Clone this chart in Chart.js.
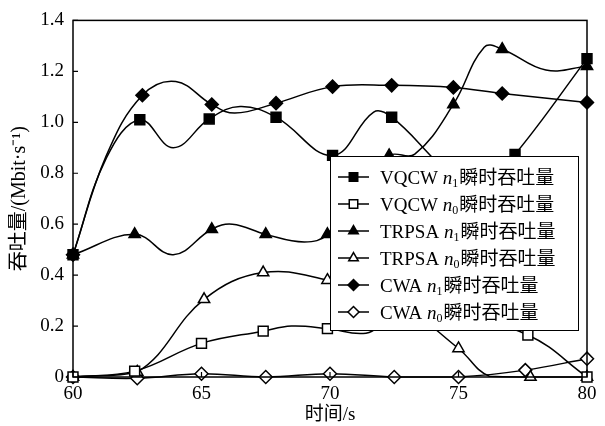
<!DOCTYPE html>
<html>
<head>
<meta charset="utf-8">
<script src="https://cdn.jsdelivr.net/npm/chart.js@4.4.1/dist/chart.umd.min.js"></script>
<style>
html, body { margin: 0; padding: 0; background: #fff; }
#wrap { width: 605px; height: 426px; }
</style>
</head>
<body>
<div id="wrap"><canvas id="chart" width="605" height="426"></canvas></div>
<script>
// axis ticks
var xTickLabels = ["60", "65", "70", "75", "80"];
var yTickLabels = ["0", "0.2", "0.4", "0.6", "0.8", "1.0", "1.2", "1.4"];

// legend text
var seriesNames = ["VQCW", "VQCW", "TRPSA", "TRPSA", "CWA", "CWA"];
var seriesSubs = ["1", "0", "1", "0", "1", "0"];
var seriesSuffix = "瞬时吞吐量";

// VQCW n1 (filled square)
var vqcw1X = [60, 61.3, 62.6, 63.9, 65.3, 66.5, 67.9, 70.1, 71.7, 72.4, 74.0, 75.5, 77.2, 80];
var vqcw1Y = [0.48, 0.86, 1.01, 0.90, 1.013, 1.062, 1.02, 0.87, 1.04, 1.02, 0.86, 0.70, 0.874, 1.25];
var vqcw1Marks = [0, 2, 4, 6, 7, 9, 12, 13];

// VQCW n0 (open square)
var vqcw0X = [60, 62.4, 65.0, 67.4, 68.5, 69.9, 71.4, 72.5, 75.0, 77.7, 80];
var vqcw0Y = [0, 0.023, 0.132, 0.18, 0.20, 0.19, 0.172, 0.23, 0.23, 0.165, 0];
var vqcw0Marks = [0, 1, 2, 3, 5, 7, 8, 9, 10];

// TRPSA n1 (filled triangle)
var trpsa1X = [60, 62.4, 63.9, 65.4, 66.2, 67.5, 69.0, 69.9, 71.2, 72.3, 73.3, 74.8, 76.0, 76.7, 78.4, 80];
var trpsa1Y = [0.48, 0.56, 0.48, 0.58, 0.60, 0.56, 0.53, 0.56, 0.75, 0.87, 0.875, 1.07, 1.295, 1.287, 1.205, 1.22];
var trpsa1Marks = [0, 1, 3, 5, 7, 9, 11, 13, 15];

// TRPSA n0 (open triangle)
var trpsa0X = [60, 62.5, 65.1, 67.4, 69.9, 72.5, 75.0, 76.2, 77.8, 80];
var trpsa0Y = [0, 0.02, 0.305, 0.41, 0.38, 0.30, 0.112, 0.003, 0, 0];
var trpsa0Marks = [0, 1, 2, 3, 4, 5, 6, 8, 9];

// CWA n1 (filled diamond)
var cwa1X = [60, 61.3, 62.7, 64.0, 65.4, 66.3, 67.9, 70.1, 72.4, 74.8, 76.7, 80];
var cwa1Y = [0.48, 0.87, 1.106, 1.16, 1.07, 1.036, 1.075, 1.14, 1.145, 1.137, 1.113, 1.078];
var cwa1Marks = [0, 2, 4, 6, 7, 8, 9, 10, 11];

// CWA n0 (open diamond)
var cwa0X = [60, 62.5, 65.0, 67.5, 70.0, 72.5, 75.0, 77.6, 80];
var cwa0Y = [0, -0.005, 0.013, 0, 0.013, 0, 0, 0.027, 0.072];
var cwa0Marks = [0, 1, 2, 3, 4, 5, 6, 7, 8];

var seriesX = [vqcw1X, vqcw0X, trpsa1X, trpsa0X, cwa1X, cwa0X];
var seriesY = [vqcw1Y, vqcw0Y, trpsa1Y, trpsa0Y, cwa1Y, cwa0Y];
var seriesMarks = [vqcw1Marks, vqcw0Marks, trpsa1Marks, trpsa0Marks, cwa1Marks, cwa0Marks];

var markerShape = ["rect", "rect", "triangle", "triangle", "rectRot", "rectRot"];
var markerFilled = [true, false, true, false, true, false];
var markerRadius = { rect: 7, triangle: 6.5, rectRot: 6.5 };

var latinFont = "'Liberation Serif', 'Noto Sans CJK SC', serif";
var cjkFont = "'Noto Sans CJK SC', sans-serif";

function buildDatasets() {
    return seriesX.map(function(xs, i) {
        var marks = seriesMarks[i];
        var shape = markerShape[i];
        return {
            label: seriesNames[i] + " n" + seriesSubs[i] + seriesSuffix,
            data: xs.map(function(x, k) { return { x: x, y: seriesY[i][k] }; }),
            borderColor: "#000",
            borderWidth: 1.5,
            tension: 0.4,
            fill: false,
            clip: false,
            pointStyle: shape,
            pointBorderColor: "#000",
            pointBorderWidth: 1.5,
            pointBackgroundColor: markerFilled[i] ? "#000" : "#fff",
            pointRadius: function(ctx) {
                return marks.indexOf(ctx.dataIndex) >= 0 ? markerRadius[shape] : 0;
            }
        };
    });
}

// box around plot + inward tick marks
var framePlugin = {
    id: "frame",
    afterDatasetsDraw: function(chart) {
        var ctx = chart.ctx;
        var a = chart.chartArea;
        var xs = chart.scales.x, ys = chart.scales.y;
        ctx.save();
        ctx.strokeStyle = "#000";
        ctx.lineWidth = 1.5;
        ctx.strokeRect(a.left, a.top, a.right - a.left, a.bottom - a.top);
        ctx.lineWidth = 1.2;
        ctx.beginPath();
        ys.ticks.forEach(function(t) {
            var py = ys.getPixelForValue(t.value);
            ctx.moveTo(a.left, py);
            ctx.lineTo(a.left + 5, py);
        });
        xs.ticks.forEach(function(t) {
            var px = xs.getPixelForValue(t.value);
            ctx.moveTo(px, a.bottom);
            ctx.lineTo(px, a.bottom - 5);
        });
        ctx.stroke();
        ctx.restore();
    }
};

// legend box inside the plot, with italic n and subscript
var legendPlugin = {
    id: "boxLegend",
    afterDatasetsDraw: function(chart) {
        var ctx = chart.ctx;
        var bx = 330, by = 156, bw = 248, bh = 174;
        ctx.save();
        ctx.fillStyle = "#fff";
        ctx.fillRect(bx, by, bw, bh);
        ctx.strokeStyle = "#000";
        ctx.lineWidth = 1;
        ctx.strokeRect(bx + 0.5, by + 0.5, bw, bh);

        seriesNames.forEach(function(name, i) {
            var cy = by + 21 + i * 27;
            ctx.strokeStyle = "#000";
            ctx.lineWidth = 1.5;
            ctx.beginPath();
            ctx.moveTo(338, cy);
            ctx.lineTo(369, cy);
            ctx.stroke();

            ctx.fillStyle = markerFilled[i] ? "#000" : "#fff";
            Chart.helpers.drawPoint(ctx, {
                pointStyle: markerShape[i],
                radius: markerRadius[markerShape[i]] - 1,
                rotation: 0,
                borderWidth: 1.5
            }, 353.5, cy);

            ctx.fillStyle = "#000";
            ctx.textBaseline = "alphabetic";
            ctx.textAlign = "left";
            var base = cy + 6.5;
            var tx = 380;
            ctx.font = "19px " + latinFont;
            ctx.fillText(name + " ", tx, base);
            tx += ctx.measureText(name + " ").width;
            ctx.font = "italic 19px " + latinFont;
            ctx.fillText("n", tx, base);
            tx += ctx.measureText("n").width;
            ctx.font = "12px " + latinFont;
            ctx.fillText(seriesSubs[i], tx, base + 3);
            tx += ctx.measureText(seriesSubs[i]).width + 1;
            ctx.font = "19px " + cjkFont;
            ctx.fillText(seriesSuffix, tx, base);
        });
        ctx.restore();
    }
};

new Chart(document.getElementById("chart"), {
    type: "line",
    data: { datasets: buildDatasets() },
    options: {
        responsive: false,
        devicePixelRatio: 1,
        animation: false,
        events: [],
        layout: { padding: { top: 15, right: 18, left: 0, bottom: 0 } },
        plugins: {
            legend: { display: false },
            tooltip: { enabled: false }
        },
        scales: {
            x: {
                type: "linear",
                min: 60,
                max: 80,
                grid: { display: false, drawTicks: false },
                border: { display: false },
                ticks: {
                    stepSize: 5,
                    color: "#000",
                    padding: 6,
                    maxRotation: 0,
                    font: { family: latinFont, size: 19 },
                    callback: function(v, idx) { return xTickLabels[idx]; }
                },
                title: {
                    display: true,
                    text: "时间/s",
                    color: "#000",
                    padding: { top: 0, bottom: 0 },
                    font: { family: latinFont, size: 19 }
                },
                afterFit: function(s) { s.height = 49; }
            },
            y: {
                min: 0,
                max: 1.4,
                grid: { display: false, drawTicks: false },
                border: { display: false },
                ticks: {
                    stepSize: 0.2,
                    color: "#000",
                    padding: 9,
                    font: { family: latinFont, size: 19 },
                    callback: function(v, idx) { return yTickLabels[idx]; }
                },
                title: {
                    display: true,
                    text: "吞吐量/(Mbit·s⁻¹)",
                    color: "#000",
                    padding: { top: 8, bottom: 0 },
                    font: { family: latinFont, size: 20 }
                },
                afterFit: function(s) { s.width = 73; }
            }
        }
    },
    plugins: [framePlugin, legendPlugin]
});
</script>
</body>
</html>
